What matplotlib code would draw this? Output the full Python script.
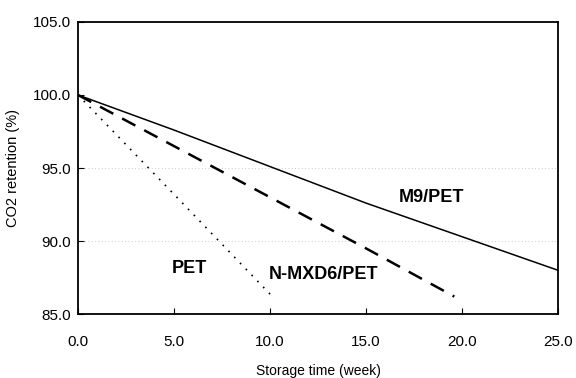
import numpy as np
import matplotlib.pyplot as plt

plt.rcParams['font.family'] = ['Liberation Sans', 'DejaVu Sans']

# storage time (week) and CO2 retention (%) for each bottle type
m9_weeks = [0.0, 5.0, 10.0, 15.0, 20.0, 25.0]
m9_retention = [100.0, 97.6, 95.1, 92.6, 90.3, 88.0]

mxd6_weeks = [0.0, 5.0, 10.0, 15.0, 19.6]
mxd6_retention = [100.0, 96.5, 93.0, 89.5, 86.2]

pet_weeks = [0.0, 5.0, 10.2]
pet_retention = [100.0, 93.2, 86.1]

x_ticks = [0.0, 5.0, 10.0, 15.0, 20.0, 25.0]
y_ticks = [85.0, 90.0, 95.0, 100.0, 105.0]

fig = plt.figure(figsize=(5.76, 3.78), dpi=100)
ax = fig.add_axes([0.1354, 0.169, 0.8334, 0.773])

ax.plot(m9_weeks, m9_retention, color='black', linewidth=1.1)
ax.plot(mxd6_weeks, mxd6_retention, color='black', linewidth=1.8, dashes=(6, 4))
ax.plot(pet_weeks, pet_retention, color='black', linewidth=1.2, dashes=(1, 4))

ax.text(18.4, 93.0, 'M9/PET', fontsize=13, fontweight='bold', ha='center', va='center')
ax.text(12.8, 87.7, 'N-MXD6/PET', fontsize=13, fontweight='bold', ha='center', va='center')
ax.text(5.8, 88.1, 'PET', fontsize=13, fontweight='bold', ha='center', va='center')

ax.set_xlim(0, 25)
ax.set_ylim(85, 105)
ax.set_xticks(x_ticks)
ax.set_yticks(y_ticks)
ax.set_xticklabels([f'{v:.1f}' for v in x_ticks], fontsize=11)
ax.set_yticklabels([f'{v:.1f}' for v in y_ticks], fontsize=11)
ax.tick_params(axis='x', direction='in', length=4, pad=15)
ax.tick_params(axis='y', direction='in', length=4, pad=5)

# faint dotted guides at 90 and 95
for yv in [90.0, 95.0]:
    ax.axhline(yv, color='#bbbbbb', linewidth=0.6, linestyle=(0, (1, 3)), zorder=0)

for side in ['left', 'bottom', 'top', 'right']:
    ax.spines[side].set_linewidth(1.3)

ax.set_xlabel('Storage time (week)', fontsize=10, labelpad=11)
ax.set_ylabel('CO2 retention (%)', fontsize=10.5, labelpad=9)

fig.savefig('out.png', dpi=100)
